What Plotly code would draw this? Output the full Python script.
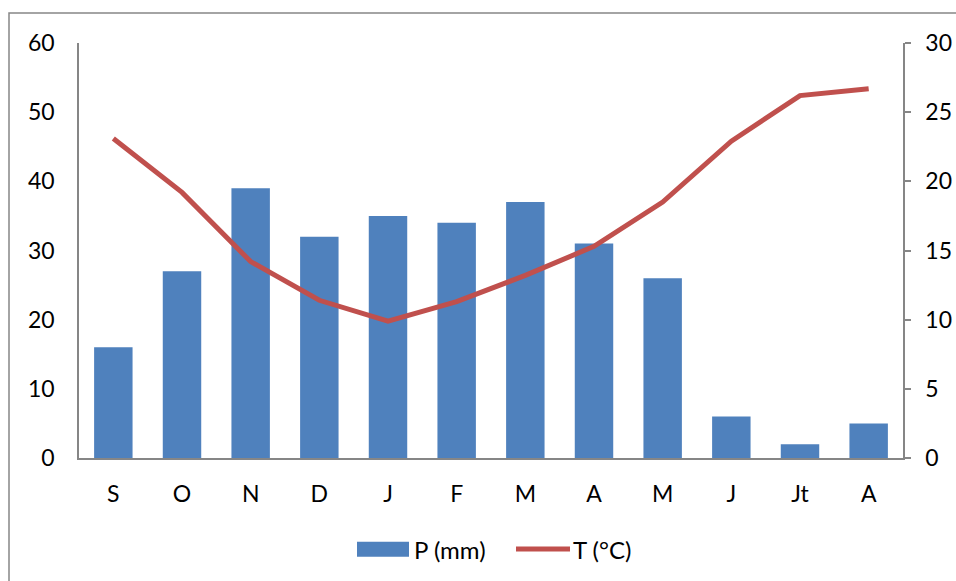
import plotly.graph_objects as go

# Monthly climate data (hydrological year, September -> August)
months = ["S", "O", "N", "D", "J", "F", "M", "A", "M", "J", "Jt", "A"]
precip_mm = [16, 27, 39, 32, 35, 34, 37, 31, 26, 6, 2, 5]
temp_c = [23.1, 19.2, 14.2, 11.4, 9.9, 11.3, 13.2, 15.3, 18.5, 22.9, 26.2, 26.7]

BAR_COLOR = "#4F81BD"
LINE_COLOR = "#C0504D"
AXIS_COLOR = "#868686"
FONT = "Lato"

W, H = 956, 581
ML, MR, MT, MB = 79, 53, 43, 123
PW, PH = W - ML - MR, H - MT - MB


def px_x(px):
    """Pixel x -> paper coordinate."""
    return (px - ML) / PW


def px_y(py):
    """Pixel y -> paper coordinate."""
    return (H - MB - py) / PH


x_idx = list(range(len(months)))

fig = go.Figure()
fig.add_trace(go.Bar(
    x=x_idx, y=precip_mm, name="P (mm)",
    marker=dict(color=BAR_COLOR, line=dict(width=0)),
    yaxis="y", showlegend=False,
))
fig.add_trace(go.Scatter(
    x=x_idx, y=temp_c, name="T (°C)", mode="lines",
    line=dict(color=LINE_COLOR, width=5),
    yaxis="y2", showlegend=False,
))

tick_font = dict(family=FONT, size=23, color="#000000")

fig.update_layout(
    width=W, height=H,
    margin=dict(l=ML, r=MR, t=MT, b=MB, pad=0, autoexpand=False),
    paper_bgcolor="white", plot_bgcolor="white",
    bargap=0.44,
    font=dict(family=FONT, size=23, color="#000000"),
    xaxis=dict(
        tickmode="array", tickvals=x_idx, ticktext=months,
        range=[-0.5, len(months) - 0.5], automargin=False,
        showline=True, linecolor=AXIS_COLOR, linewidth=1.5,
        ticks="", showgrid=False, zeroline=False,
        tickfont=tick_font, ticklabelstandoff=15,
    ),
    yaxis=dict(
        range=[0, 60], dtick=10, automargin=False,
        showline=True, linecolor=AXIS_COLOR, linewidth=1.5,
        ticks="", showgrid=False, zeroline=False,
        tickfont=tick_font, ticklabelstandoff=18,
    ),
    yaxis2=dict(
        range=[0, 30], dtick=5, overlaying="y", side="right", automargin=False,
        showline=True, linecolor=AXIS_COLOR, linewidth=1.5,
        ticks="outside", ticklen=6, tickcolor=AXIS_COLOR, tickwidth=1.5,
        showgrid=False, zeroline=False,
        tickfont=tick_font, ticklabelstandoff=10,
    ),
)

# Outer chart-area frame
fig.add_shape(type="rect", xref="paper", yref="paper",
              x0=px_x(9), x1=px_x(W + 20), y0=px_y(H + 20), y1=px_y(13),
              line=dict(color=AXIS_COLOR, width=1.5), fillcolor="rgba(0,0,0,0)",
              layer="below")

# Legend
leg_font = dict(family=FONT, size=24, color="#000000")
leg_y = px_y(549)
fig.add_shape(type="rect", xref="paper", yref="paper",
              x0=px_x(357), x1=px_x(409), y0=px_y(556.7), y1=px_y(541.7),
              line=dict(width=0), fillcolor=BAR_COLOR)
fig.add_annotation(xref="paper", yref="paper", x=px_x(412), y=leg_y,
                   text="P (mm)", showarrow=False, xanchor="left", yanchor="middle",
                   font=leg_font)
fig.add_shape(type="line", xref="paper", yref="paper",
              x0=px_x(516), x1=px_x(570), y0=leg_y, y1=leg_y,
              line=dict(color=LINE_COLOR, width=5))
fig.add_annotation(xref="paper", yref="paper", x=px_x(571), y=leg_y,
                   text="T (°C)", showarrow=False, xanchor="left", yanchor="middle",
                   font=leg_font)

fig.write_html("out.html")
